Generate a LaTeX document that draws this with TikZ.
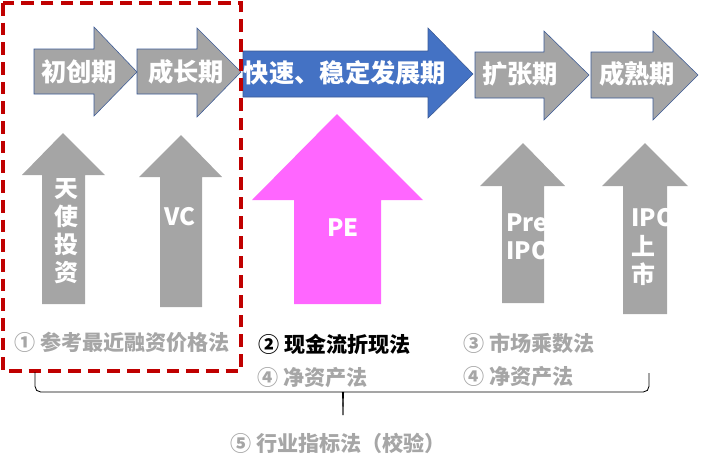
\documentclass[tikz,border=0pt]{standalone}
\usepackage{fontspec}
\setmainfont{Noto Sans CJK SC}
\usepackage{xcolor}
\usepackage{tikz}
\usetikzlibrary{positioning}
\usetikzlibrary{calc}

\definecolor{stageGray}{HTML}{A5A5A5}
\definecolor{stageEdge}{HTML}{3B5A96}
\definecolor{stageBlue}{HTML}{4472C4}
\definecolor{pePink}{HTML}{FF66FF}
\definecolor{boxRed}{HTML}{C00000}
\definecolor{methodGray}{HTML}{A6A6A6}

\begin{document}
\begin{tikzpicture}[
    x=0.025cm, y=-0.025cm,
    % Styling for the arrows and labels
    stageArrow/.style={fill=stageGray, draw=stageEdge, line width=0.4pt},
    fundArrow/.style={fill=stageGray, draw=none},
    stageLabel/.style={text=white, font=\fontsize{18}{20}\selectfont\bfseries, inner sep=0pt},
    fundLabel/.style={text=white, font=\fontsize{17}{20}\selectfont\bfseries, inner sep=0pt, align=center},
    methodLabel/.style={text=methodGray, font=\fontsize{15}{18}\selectfont\bfseries, inner sep=0pt},
    braceLine/.style={draw=black, line width=0.6pt}
]
    \useasboundingbox (0,0) rectangle (719,469);

    % Stage arrows (top row)
    \draw[stageArrow] (34,49) -- (94,49) -- (94,27) -- (137,72) -- (94,116) -- (94,94) -- (34,94) -- cycle;
    \draw[stageArrow] (137,49) -- (197,49) -- (197,28) -- (241,72) -- (197,117) -- (197,94) -- (137,94) -- cycle;
    \draw[stageArrow, fill=stageBlue] (243,51) -- (428,51) -- (428,28) -- (473,74) -- (428,118) -- (428,97) -- (243,97) -- cycle;
    \draw[stageArrow] (475,52) -- (544,52) -- (544,31) -- (589,75) -- (544,120) -- (544,98) -- (475,98) -- cycle;
    \draw[stageArrow] (591,52) -- (653,52) -- (653,31) -- (698,75) -- (653,120) -- (653,98) -- (591,98) -- cycle;

    \node[stageLabel] (startup) at (79,72) {初创期};
    \node[stageLabel] (growth) at (186,72) {成长期};
    \node[stageLabel] (steady) at (345,73) {快速、稳定发展期};
    \node[stageLabel] (expand) at (520,74) {扩张期};
    \node[stageLabel] (mature) at (637,74) {成熟期};

    % Funding arrows (middle row)
    \fill[fundArrow] (63,133) -- (105,175) -- (85,175) -- (85,304) -- (42,304) -- (42,175) -- (22,175) -- cycle;
    \fill[fundArrow] (181,135) -- (222,177) -- (202,177) -- (202,307) -- (160,307) -- (160,177) -- (139,177) -- cycle;
    \fill[fundArrow, fill=pePink] (337,114) -- (423,200) -- (381,200) -- (381,304) -- (294,304) -- (294,200) -- (252,200) -- cycle;
    \fill[fundArrow] (523,143) -- (565,186) -- (544,186) -- (544,303) -- (502,303) -- (502,186) -- (480,186) -- cycle;
    \fill[fundArrow] (645,143) -- (688,186) -- (667,186) -- (667,314) -- (623,314) -- (623,186) -- (602,186) -- cycle;

    \node[fundLabel] (angel) at (66,231) {天\\使\\投\\资};
    \node[fundLabel] (vc) at (180,217) {VC};
    \node[fundLabel] (pe) at (343,228) {PE};
    \node[fundLabel, anchor=west, align=left] (preipo) at (506,237) {Pre\\IPO};
    \node[fundLabel, anchor=west, align=left, font=\fontsize{17}{20.5}\selectfont\bfseries] (ipo) at (631,247) {IPO\\上\\市};

    % Valuation methods (bottom rows)
    \node[methodLabel, anchor=west] (recent) at (14,342) {① 参考最近融资价格法};
    \node[methodLabel, anchor=west, text=black] (dcf) at (258,344) {② 现金流折现法};
    \node[methodLabel, anchor=west] (multiple) at (463,343) {③ 市场乘数法};
    \node[methodLabel, anchor=west] (netasset1) at (257,378) {④ 净资产法};
    \node[methodLabel, anchor=west] (netasset2) at (463,377) {④ 净资产法};
    \node[methodLabel] (industry) at (338,443) {⑤ 行业指标法（校验）};

    % Early-stage frame
    \draw[boxRed, line width=2.2pt, dash pattern=on 9pt off 5pt] (3,3) rectangle (241,371);

    % Brace over all methods
    \coordinate (braceL) at (35,372);
    \coordinate (braceR) at (649,373);
    \coordinate (braceTip) at (343,415);
    \draw[braceLine, rounded corners=4] (braceL) -- (35,392) -- (337,392) .. controls (342,392) and (343,396) .. (braceTip);
    \draw[braceLine, rounded corners=4] (braceR) -- (649,392) -- (349,392) .. controls (344,392) and (343,396) .. (braceTip);

\end{tikzpicture}
\end{document}
